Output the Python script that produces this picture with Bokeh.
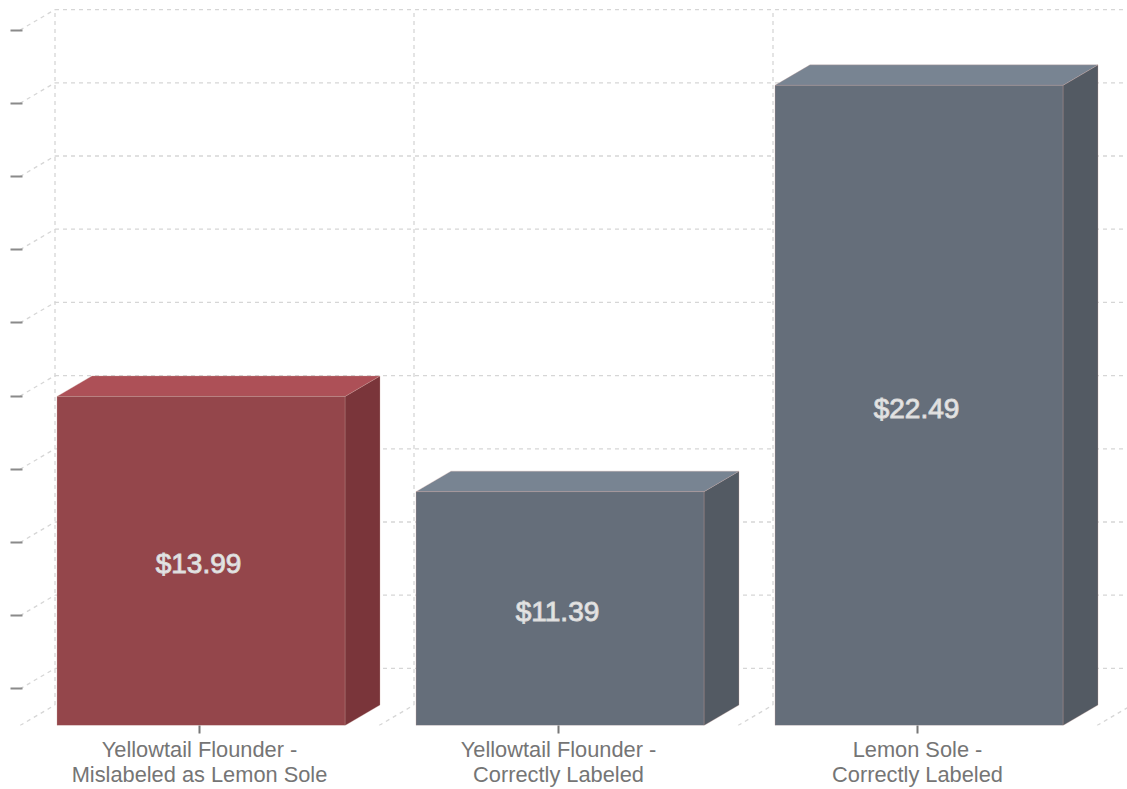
from bokeh.core.properties import value
from bokeh.embed import file_html
from bokeh.models import ColumnDataSource, FixedTicker, LinearAxis, Range1d
from bokeh.plotting import figure
from bokeh.resources import INLINE

# Retail price per pound by fish and label
categories = [
    "Yellowtail Flounder -\nMislabeled as Lemon Sole",
    "Yellowtail Flounder -\nCorrectly Labeled",
    "Lemon Sole -\nCorrectly Labeled",
]
prices = [13.99, 11.39, 22.49]
y_ticks = [6, 8, 10, 12, 14, 16, 18, 20, 22, 24]
y_floor = 5

front_colors = ["#94464b", "#656e7a", "#656e7a"]
top_colors = ["#ad5057", "#788492", "#788492"]
side_colors = ["#7a353a", "#535a63", "#535a63"]

WIDTH, HEIGHT = 1127, 789
LEFT, BOTTOM = 19, 64
PX_PER_CATEGORY = 359.0
PX_PER_DOLLAR = 36.6
FIRST_TICK_PX = 199

# Oblique projection: how far the rear plane is shifted from the front plane
DEPTH_X = 35 / PX_PER_CATEGORY
DEPTH_Y = 20.5 / PX_PER_DOLLAR
BAR_WIDTH = 288 / PX_PER_CATEGORY
BAR_SHIFT = 1.5 / PX_PER_CATEGORY

x_start = (LEFT - FIRST_TICK_PX) / PX_PER_CATEGORY
x_end = x_start + (WIDTH - LEFT) / PX_PER_CATEGORY
y_end = y_floor + (HEIGHT - BOTTOM) / PX_PER_DOLLAR

p = figure(
    width=WIDTH,
    height=HEIGHT,
    output_backend="svg",
    toolbar_location=None,
    x_range=Range1d(x_start, x_end),
    y_range=Range1d(y_floor, y_end),
    x_axis_type=None,
    y_axis_type=None,
    min_border_left=LEFT,
    min_border_right=0,
    min_border_top=0,
    min_border_bottom=BOTTOM,
    background_fill_color="white",
    border_fill_color="white",
    outline_line_color=None,
)
p.grid.visible = False

# Dashed walls: rear horizontals, rear verticals and the diagonals joining the planes
GRID = dict(line_color="#d6d6d6", line_width=1.3, line_dash="4 4")
edges = [i - 0.5 for i in range(len(categories) + 1)]
rear_left = edges[0] + DEPTH_X

p.multi_line(
    xs=[[rear_left, x_end] for _ in y_ticks],
    ys=[[t + DEPTH_Y, t + DEPTH_Y] for t in y_ticks],
    **GRID,
)
p.multi_line(
    xs=[[e + DEPTH_X, e + DEPTH_X] for e in edges],
    ys=[[y_floor + DEPTH_Y, y_ticks[-1] + DEPTH_Y] for _ in edges],
    **GRID,
)
p.multi_line(
    xs=[[edges[0], rear_left] for _ in y_ticks],
    ys=[[t, t + DEPTH_Y] for t in y_ticks],
    **GRID,
)
p.multi_line(
    xs=[[e, e + DEPTH_X] for e in edges],
    ys=[[y_floor, y_floor + DEPTH_Y] for _ in edges],
    **GRID,
)

# Each bar is made of three faces
lefts = [i + BAR_SHIFT - BAR_WIDTH / 2 for i in range(len(prices))]
rights = [i + BAR_SHIFT + BAR_WIDTH / 2 for i in range(len(prices))]

side_xs = [[r, r + DEPTH_X, r + DEPTH_X, r] for r in rights]
side_ys = [[y_floor, y_floor + DEPTH_Y, v + DEPTH_Y, v] for v in prices]
top_xs = [[l, l + DEPTH_X, r + DEPTH_X, r] for l, r in zip(lefts, rights)]
top_ys = [[v, v + DEPTH_Y, v + DEPTH_Y, v] for v in prices]

EDGE = dict(line_color="#c9a29a", line_width=1, line_alpha=0.3)
p.patches(side_xs, side_ys, fill_color=side_colors, **EDGE)
p.patches(top_xs, top_ys, fill_color=top_colors, **EDGE)
p.quad(
    left=lefts,
    right=rights,
    bottom=[y_floor] * len(prices),
    top=prices,
    fill_color=front_colors,
    **EDGE,
)

# Price labels centred on the front faces
labels = ColumnDataSource(
    dict(
        x=list(range(len(prices))),
        y=[(v + y_floor) / 2 for v in prices],
        text=[f"${v:.2f}" for v in prices],
    )
)
p.text(
    x="x",
    y="y",
    text="text",
    source=labels,
    text_align="center",
    text_baseline="middle",
    text_color="#e8e8e8",
    text_font=value("Liberation Sans"),
    text_font_size="28px",
    text_outline_color="#d8d8d8",
    x_offset=-1,
    y_offset=3,
)

y_axis = LinearAxis(
    ticker=FixedTicker(ticks=y_ticks),
    major_label_overrides={t: "" for t in y_ticks},
    axis_line_color=None,
    major_tick_line_color="#8a8a8a",
    major_tick_line_width=2,
    major_tick_in=3,
    major_tick_out=9,
    minor_tick_line_color=None,
    major_label_standoff=0,
)
p.add_layout(y_axis, "left")

x_axis = LinearAxis(
    ticker=FixedTicker(ticks=list(range(len(categories)))),
    major_label_overrides=dict(enumerate(categories)),
    axis_line_color=None,
    major_tick_line_color="#777777",
    major_tick_line_width=2,
    major_tick_in=0,
    major_tick_out=8,
    minor_tick_line_color=None,
    major_label_standoff=3,
    major_label_text_color="#757575",
    major_label_text_font="Liberation Sans",
    major_label_text_font_size="21.8px",
    major_label_text_line_height=1.0,
)
p.add_layout(x_axis, "below")

open("out.html", "w").write(file_html(p, INLINE))
